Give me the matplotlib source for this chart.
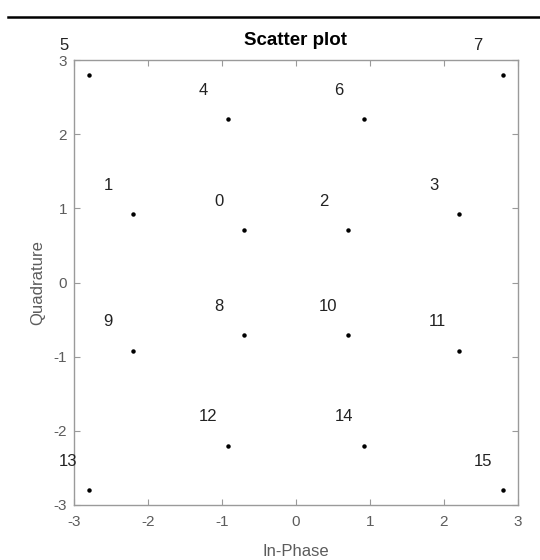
import matplotlib.pyplot as plt
from matplotlib.lines import Line2D

plt.rcParams['font.family'] = ['Liberation Sans', 'DejaVu Sans']
plt.rcParams['axes.unicode_minus'] = False

# constellation points, labelled by symbol index
symbols = list(range(16))
in_phase = [-0.707, -2.2, 0.707, 2.2, -0.92, -2.8, 0.92, 2.8,
            -0.707, -2.2, 0.707, 2.2, -0.92, -2.8, 0.92, 2.8]
quadrature = [0.707, 0.92, 0.707, 0.92, 2.2, 2.8, 2.2, 2.8,
              -0.707, -0.92, -0.707, -0.92, -2.2, -2.8, -2.2, -2.8]
ticks = [-3, -2, -1, 0, 1, 2, 3]

gray_axis = '#9a9a9a'
gray_text = '#5c5c5c'

fig = plt.figure(figsize=(5.4, 5.6), dpi=100)
ax = fig.add_axes([74 / 540, 55 / 560, 444 / 540, 445 / 560])

ax.plot(in_phase, quadrature, 'o', color='black', markersize=2.2, linestyle='none')

# symbol labels, shifted up-left of each point
for s, x, y in zip(symbols, in_phase, quadrature):
    ax.text(x - 0.4, y + 0.39, str(s), fontsize=12, color='#222222',
            ha='left', va='center', clip_on=False)

ax.set_xlim(-3, 3)
ax.set_ylim(-3, 3)
ax.set_xticks(ticks)
ax.set_yticks(ticks)
ax.tick_params(direction='in', top=True, right=True, length=4, width=0.8,
               color=gray_axis, labelcolor=gray_text, labelsize=11)
ax.tick_params(axis='x', pad=7)
ax.tick_params(axis='y', pad=5)
for sp in ax.spines.values():
    sp.set_color(gray_axis)
    sp.set_linewidth(1.0)

ax.set_title('Scatter plot', fontsize=13.5, fontweight='bold', pad=11)
ax.set_xlabel('In-Phase', fontsize=12, color=gray_text, va='center')
ax.xaxis.set_label_coords(0.5, -47 / 445)
ax.set_ylabel('Quadrature', fontsize=12, color=gray_text, va='center')
ax.yaxis.set_label_coords(-36 / 444, 0.5)

# separator line above the figure
fig.add_artist(Line2D([8 / 540, 1.0], [1 - 17 / 560, 1 - 17 / 560],
                      color='black', linewidth=1.8))

fig.savefig('out.png', dpi=100)
